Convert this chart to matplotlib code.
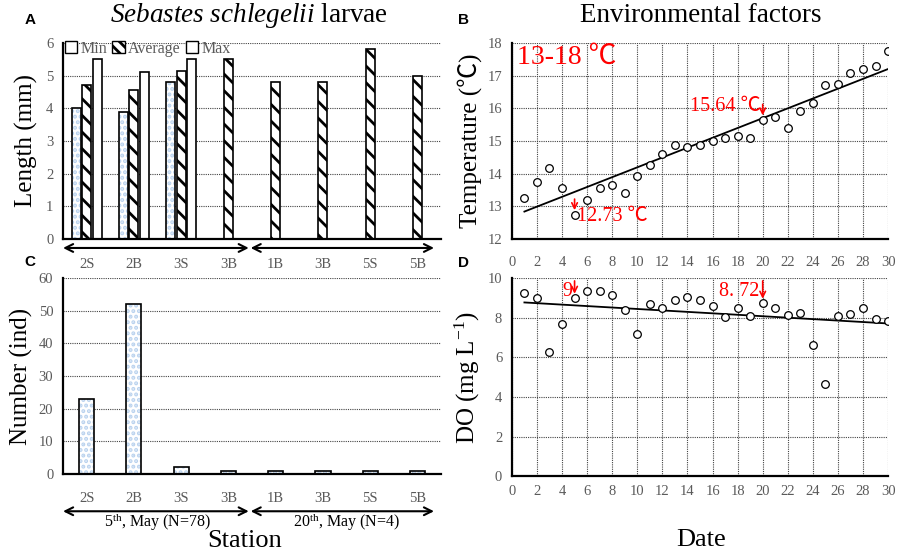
import numpy as np
import matplotlib
matplotlib.use("Agg")
import matplotlib.pyplot as plt
from matplotlib.patches import Patch

plt.rcParams['font.family'] = ['Liberation Serif', 'Noto Sans CJK SC', 'DejaVu Sans']
plt.rcParams['mathtext.fontset'] = 'custom'
plt.rcParams['mathtext.rm'] = 'Liberation Serif'
plt.rcParams['mathtext.it'] = 'Liberation Serif:italic'
plt.rcParams['hatch.linewidth'] = 2.0

# ---- data ----
stations = ["2S", "2B", "3S", "3B", "1B", "3B", "5S", "5B"]
len_min = [4.0, 3.9, 4.8, np.nan, np.nan, np.nan, np.nan, np.nan]
len_avg = [4.72, 4.57, 5.15, 5.5, 4.8, 4.8, 5.8, 5.0]
len_max = [5.5, 5.1, 5.5, np.nan, np.nan, np.nan, np.nan, np.nan]
number = [23, 52, 2, 1, 1, 1, 1, 1]
groups = ["5$^{\\mathregular{th}}$, May (N=78)", "20$^{\\mathregular{th}}$, May (N=4)"]

days = np.arange(1, 31)
temp = [13.25, 13.75, 14.16, 13.55, 12.73, 13.2, 13.57, 13.65, 13.42, 13.94,
        14.25, 14.59, 14.87, 14.81, 14.89, 14.99, 15.1, 15.16, 15.08, 15.64,
        15.72, 15.4, 15.92, 16.17, 16.7, 16.74, 17.07, 17.2, 17.3, 17.76]
do = [9.22, 9.0, 6.25, 7.66, 8.98, 9.32, 9.36, 9.12, 8.39, 7.17,
      8.69, 8.46, 8.9, 9.02, 8.88, 8.61, 8.05, 8.46, 8.08, 8.72,
      8.5, 8.14, 8.24, 6.61, 4.63, 8.1, 8.2, 8.46, 7.95, 7.85]

TICK = '#5a5a5a'
DOT = '#b9d2ee'
GRID = dict(color='#444444', lw=0.8, ls=(0, (1, 1)))

fig = plt.figure(figsize=(8.98, 5.57), dpi=100)
axA = fig.add_axes([0.0702, 0.571, 0.421, 0.352])
axB = fig.add_axes([0.570, 0.571, 0.419, 0.352])
axC = fig.add_axes([0.0702, 0.149, 0.421, 0.352])
axD = fig.add_axes([0.570, 0.145, 0.419, 0.356])


def style(ax):
    for s in ['top', 'right']:
        ax.spines[s].set_visible(False)
    for s in ['left', 'bottom']:
        ax.spines[s].set_linewidth(1.6)
    ax.tick_params(length=0, labelsize=10.5, labelcolor=TICK)
    ax.set_axisbelow(True)


def dotted_bar(ax, x, h, w):
    ax.bar(x, h, w, color='white', edgecolor=DOT, hatch='...', lw=0)
    ax.bar(x, h, w, fill=False, edgecolor='black', lw=1.2)


def group_arrows(ax, y):
    tr = ax.get_xaxis_transform()
    kw = dict(arrowstyle='<->', lw=1.5, color='black', mutation_scale=14,
              shrinkA=0, shrinkB=0)
    ax.annotate('', xy=(3.43, y), xytext=(-0.5, y), xycoords=tr,
                textcoords=tr, arrowprops=kw, annotation_clip=False)
    ax.annotate('', xy=(7.35, y), xytext=(3.47, y), xycoords=tr,
                textcoords=tr, arrowprops=kw, annotation_clip=False)


x = np.arange(len(stations))

# ---- A: larval length ----
style(axA)
dotted_bar(axA, x - 0.22, len_min, 0.19)
axA.bar(x, len_avg, 0.19, color='white', edgecolor='black', hatch='\\\\', lw=1.2)
axA.bar(x + 0.22, len_max, 0.19, color='white', edgecolor='black', lw=1.2)
axA.set_xlim(-0.5, 7.5)
axA.set_ylim(0, 6)
axA.yaxis.grid(True, **GRID)
axA.set_xticks(x)
axA.set_xticklabels(stations)
axA.tick_params(axis='x', pad=14)
axA.tick_params(axis='y', pad=7)
axA.set_ylabel("Length (mm)", fontsize=18, labelpad=6)
group_arrows(axA, -0.046)
handles = [Patch(facecolor='white', edgecolor='black', lw=1),
           Patch(facecolor='white', edgecolor='black', hatch='\\\\\\', lw=1),
           Patch(facecolor='white', edgecolor='black', lw=1)]
leg = axA.legend(handles, ["Min", "Average", "Max"], loc='upper left', ncol=3,
                 frameon=False, fontsize=11.5, handlelength=0.8, handleheight=0.8,
                 handletextpad=0.2, columnspacing=0.3, borderaxespad=0.0,
                 borderpad=0.1, bbox_to_anchor=(0.0, 1.02))
for t in leg.get_texts():
    t.set_color(TICK)

# ---- C: larval number ----
style(axC)
for xi, n in zip(x, number):
    dotted_bar(axC, xi, n, 0.32)
axC.set_xlim(-0.5, 7.5)
axC.set_ylim(0, 60)
axC.set_yticks(range(0, 61, 10))
axC.yaxis.grid(True, **GRID)
axC.set_xticks(x)
axC.set_xticklabels(stations)
axC.tick_params(axis='x', pad=13)
axC.tick_params(axis='y', pad=7)
axC.set_ylabel("Number (ind)", fontsize=18, labelpad=4)
group_arrows(axC, -0.19)
trC = axC.get_xaxis_transform()
axC.text(1.5, -0.245, groups[0], transform=trC, ha='center', va='center', fontsize=11.5)
axC.text(5.5, -0.245, groups[1], transform=trC, ha='center', va='center', fontsize=11.5)
fig.text(0.272, 0.028, "Station", ha='center', va='center', fontsize=19)

# ---- B: temperature ----
style(axB)
axB.plot(days, temp, 'o', mfc='white', mec='black', ms=5.5, mew=0.9, zorder=3)
kB = np.polyfit(days, temp, 1)
axB.plot(days, np.polyval(kB, days), color='black', lw=1.3, zorder=2)
axB.set_xlim(0, 30)
axB.set_ylim(12, 18)
axB.set_xticks(range(0, 31, 2))
axB.grid(True, **GRID)
axB.tick_params(axis='x', pad=12)
axB.tick_params(axis='y', pad=7)
axB.set_ylabel("Temperature (℃)", fontsize=18, labelpad=4)
axB.text(0.4, 17.95, "13-18 ℃", color='red', fontsize=20, va='top', ha='left')
red = dict(arrowstyle='->', color='red', lw=1.2, shrinkA=0, shrinkB=0)
axB.annotate('', xy=(20, 15.78), xytext=(20, 16.12), arrowprops=red)
axB.text(19.8, 16.05, "15.64 ℃", color='red', fontsize=14.5, ha='right', va='center')
axB.annotate('', xy=(5, 12.88), xytext=(5, 13.22), arrowprops=red)
axB.text(5.2, 12.7, "12.73 ℃", color='red', fontsize=14.5, ha='left', va='center')

# ---- D: dissolved oxygen ----
style(axD)
axD.plot(days, do, 'o', mfc='white', mec='black', ms=5.5, mew=0.9, zorder=3)
kD = np.polyfit(days, do, 1)
axD.plot(days, np.polyval(kD, days), color='black', lw=1.3, zorder=2)
axD.set_xlim(0, 30)
axD.set_ylim(0, 10)
axD.set_xticks(range(0, 31, 2))
axD.set_yticks(range(0, 11, 2))
axD.grid(True, **GRID)
axD.tick_params(axis='x', pad=6)
axD.tick_params(axis='y', pad=7)
axD.set_ylabel("DO (mg L$^{\\mathregular{-1}}$)", fontsize=18, labelpad=4)
fig.text(0.781, 0.031, "Date", ha='center', va='center', fontsize=19)
axD.annotate('', xy=(5, 9.2), xytext=(5, 9.85), arrowprops=red)
axD.text(4.85, 9.3, "9", color='red', fontsize=14.5, ha='right', va='center')
axD.annotate('', xy=(20, 8.95), xytext=(20, 9.85), arrowprops=red)
axD.text(19.75, 9.3, "8. 72", color='red', fontsize=14.5, ha='right', va='center')

# ---- titles and panel letters ----
fig.text(0.277, 0.972, "$\\mathit{Sebastes\\ schlegelii}$ larvae", ha='center',
         va='center', fontsize=19.5)
fig.text(0.78, 0.972, "Environmental factors", ha='center', va='center', fontsize=19.5)
for lbl, (fx, fy) in zip("ABCD", [(0.033, 0.964), (0.516, 0.964),
                                   (0.033, 0.530), (0.516, 0.528)]):
    fig.text(fx, fy, lbl, fontsize=11, fontweight='bold', family='Liberation Sans',
             ha='center', va='center')

fig.savefig("out.png", dpi=100)
